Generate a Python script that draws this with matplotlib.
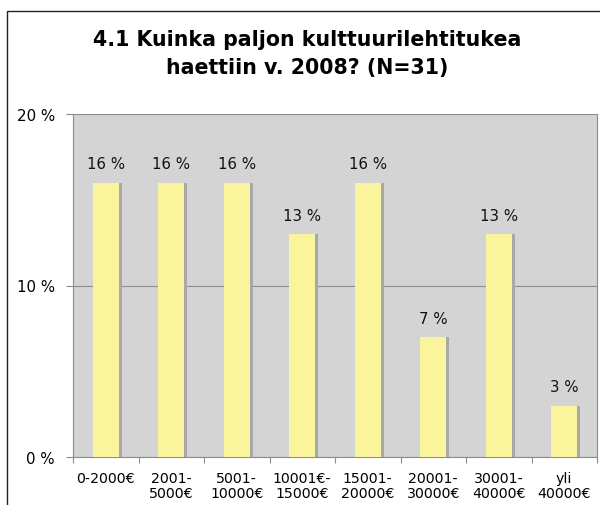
import matplotlib
matplotlib.use("Agg")
import matplotlib.pyplot as plt
from matplotlib.patches import Rectangle

categories = ["0-2000€", "2001-\n5000€", "5001-\n10000€", "10001€-\n15000€",
              "15001-\n20000€", "20001-\n30000€", "30001-\n40000€", "yli\n40000€"]
values = [16, 16, 16, 13, 16, 7, 13, 3]
yticks = [0, 10, 20]
title = "4.1 Kuinka paljon kulttuurilehtitukea\nhaettiin v. 2008? (N=31)"

fig = plt.figure(figsize=(6.0, 5.06), dpi=100)
W, H = 600, 506
ax = fig.add_axes([73 / W, 1 - 458 / H, (597 - 73) / W, (458 - 115) / H])

# outer chart frame
fig.patches.append(Rectangle((7 / W, -0.1), 1.2, 1 - 12 / H + 0.1, transform=fig.transFigure,
                             fill=False, edgecolor="#222222", linewidth=1.0))

ax.set_facecolor("#d4d4d4")
x = list(range(len(values)))
bw = 0.4
# shadows
ax.bar([i + 0.045 for i in x], values, width=bw, color="#a8a8a8", zorder=2)
ax.bar(x, values, width=bw, color="#faf59c", zorder=3)
for i, v in zip(x, values):
    ax.text(i, v + 0.65, f"{v} %", ha="center", va="bottom", fontsize=10.8, color="#111111",
            zorder=4)

ax.set_xlim(-0.5, len(values) - 0.5)
ax.set_ylim(0, 20)
ax.set_yticks(yticks)
ax.set_yticklabels([f"{t} %" for t in yticks], fontsize=10.8)
ax.yaxis.grid(True, color="#8c8c8c", linewidth=0.8, zorder=1)
ax.set_axisbelow(True)

ax.set_xticks([i - 0.5 for i in range(len(values) + 1)], minor=False)
ax.set_xticklabels([])
ax.set_xticks(x, minor=True)
ax.set_xticklabels(categories, minor=True, fontsize=10.2, linespacing=1.12)
ax.tick_params(axis="x", which="minor", length=0, pad=10)
ax.tick_params(axis="x", which="major", length=4, color="#8c8c8c")
ax.tick_params(axis="y", length=5, color="#8c8c8c", pad=8)

ax.spines["top"].set_visible(False)
for s in ["left", "bottom", "right"]:
    ax.spines[s].set_color("#8c8c8c")

fig.text(307 / W, 1 - 54 / H, title, ha="center", va="center", fontsize=14.8,
         fontweight="bold", linespacing=1.45)

fig.savefig("out.png", dpi=100)
